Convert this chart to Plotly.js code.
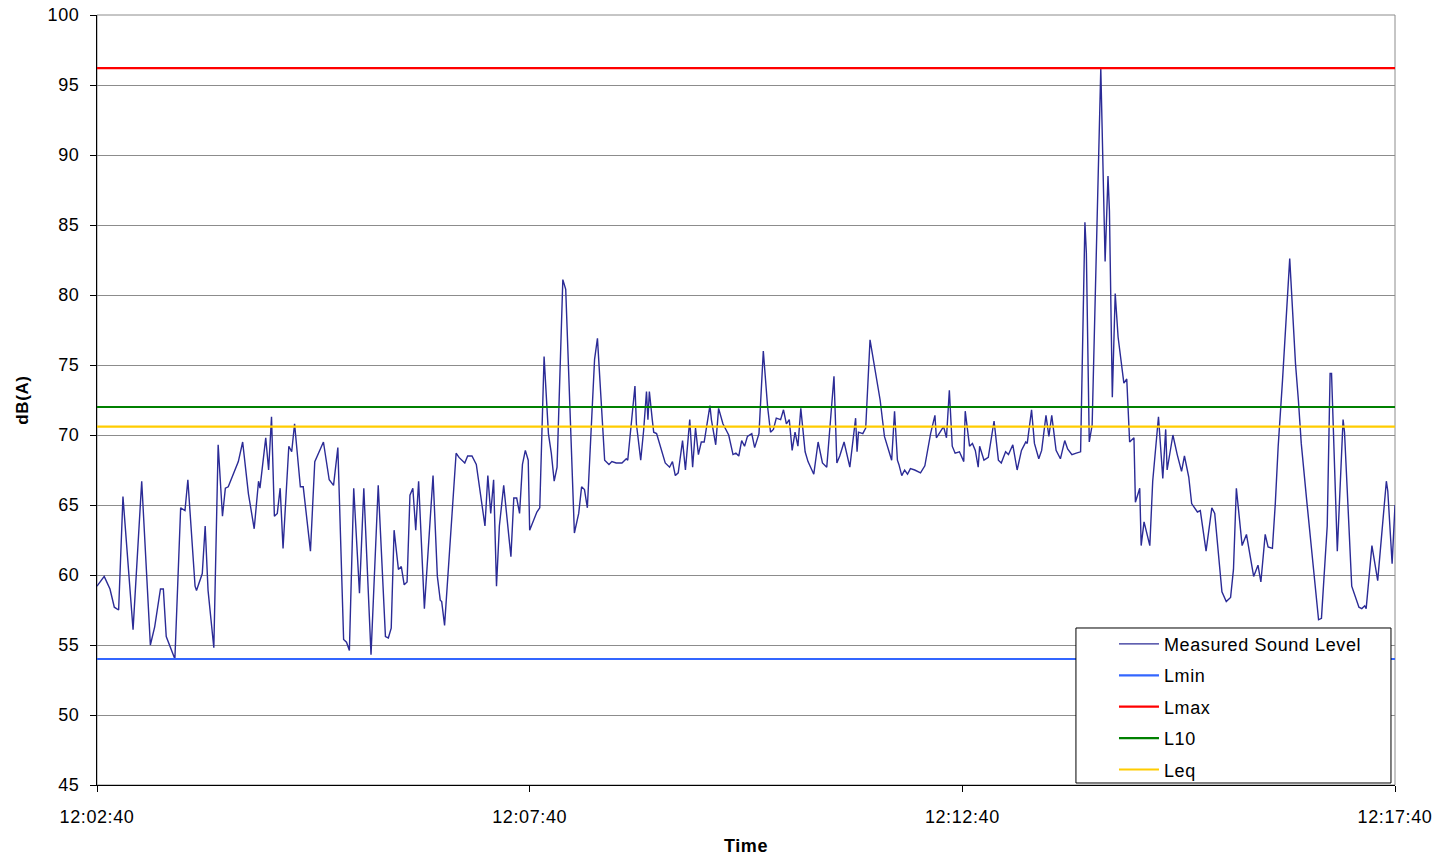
<!DOCTYPE html>
<html>
<head>
<meta charset="utf-8">
<script src="https://cdn.plot.ly/plotly-3.0.1.min.js"></script>
<style>html,body{margin:0;padding:0;background:#fff;}#chart{width:1445px;height:860px;}
svg text{letter-spacing:0.6px;}</style>
</head>
<body>
<div id="chart"></div>
<script>
// Seconds after 12:02:40
const seconds = [0,5,9,12,15,18,25,31,37,40,44,46,48,54,58,61,63,68,69,73,75,77,81,84,87,89,91,95,98,101,105,109,112,113,117,119,121,123,125,127,129,133,135,137,141,143,148,151,157,161,164,167,171,173,175,178,182,185,190,195,200,202,204,206,209,211,213,215,217,219,221,223,227,233,236,238,239,241,245,249,251,255,257,260,263,269,271,273,275,277,279,282,287,289,291,293,295,297,299,300,305,307,310,313,315,317,319,323,325,331,334,336,338,340,345,347,352,355,357,360,364,367,368,373,374,377,379,381,382,383,385,386,388,392,394,397,399,401,403,406,408,411,413,415,417,419,421,425,426,429,431,434,436,438,441,443,445,447,449,451,454,456,459,462,465,467,469,471,474,476,478,480,482,484,486,488,491,493,497,500,503,506,511,513,515,518,522,526,527,528,531,533,536,538,543,546,551,553,555,556,558,560,562,564,567,571,574,578,581,582,585,587,589,591,593,595,598,601,602,605,607,609,611,612,615,618,622,625,627,630,632,635,638,641,644,645,648,650,653,655,658,660,662,665,668,671,673,676,679,682,685,686,688,690,696,699,701,702,704,706,708,712,714,716,719,720,723,724,726,730,732,736,739,741,742,746,749,752,754,757,759,763,765,769,773,775,780,783,786,788,790,794,797,802,805,807,810,812,815,817,819,822,827,831,833,835,839,843,847,849,853,855,856,860,864,865,870,875,877,879,880,884,888,894,895,898,900];
const measured = [59.2,59.9,59.0,57.7,57.5,65.6,56.1,66.7,55.0,56.3,59.0,59.0,55.6,54.0,64.8,64.6,66.8,59.2,58.9,60.1,63.5,58.9,54.8,69.3,64.2,66.2,66.3,67.3,68.1,69.5,65.8,63.3,66.7,66.2,69.8,67.5,71.3,64.2,64.4,66.2,61.9,69.2,68.8,70.8,66.3,66.3,61.7,68.1,69.5,66.8,66.4,69.1,55.4,55.2,54.6,66.2,58.7,66.2,54.3,66.4,55.6,55.5,56.2,63.2,60.4,60.6,59.3,59.5,65.7,66.2,63.2,66.7,57.6,67.1,59.9,58.2,58.1,56.4,62.9,68.7,68.4,68.0,68.5,68.5,67.9,63.5,67.1,64.4,66.8,59.2,63.5,66.4,61.3,65.5,65.5,64.4,67.9,68.9,68.2,63.2,64.5,64.8,75.6,70.1,68.7,66.7,67.7,81.1,80.4,63.0,64.4,66.3,66.1,64.8,75.4,76.9,68.2,67.9,68.1,68.0,68.0,68.3,68.2,73.5,70.8,68.2,70.3,73.1,71.1,73.1,71.1,70.2,70.1,68.8,68.0,67.7,68.1,67.1,67.3,69.6,67.5,71.1,67.7,70.5,68.6,69.5,69.5,72.1,71.1,69.3,71.9,70.8,70.4,70.0,68.6,68.7,68.5,69.6,69.2,69.9,70.1,69.1,70.1,76.0,72.0,70.2,70.4,71.2,71.1,71.8,70.8,71.1,68.9,70.2,69.2,71.9,68.8,68.1,67.2,69.5,68.0,67.7,74.2,68.0,68.5,69.5,67.7,71.2,68.8,70.2,70.1,70.5,76.8,75.5,72.5,69.9,68.2,71.7,68.2,67.9,67.1,67.5,67.2,67.6,67.5,67.3,67.8,70.1,71.4,69.8,70.3,70.6,69.8,73.2,69.2,68.7,68.8,68.1,71.7,69.2,69.4,68.9,67.7,69.2,68.2,68.4,71.0,68.2,68.0,68.8,68.6,69.3,67.5,68.9,69.5,69.4,71.8,69.4,68.3,68.9,71.4,69.9,71.4,68.9,68.3,69.6,69.0,68.6,68.7,68.8,85.2,83.0,69.5,70.7,96.2,82.4,88.5,86.0,72.7,80.1,77.0,73.7,74.0,69.5,69.8,65.2,66.2,62.1,63.8,62.1,66.7,71.3,66.9,70.4,67.5,70.0,68.6,67.4,68.5,67.0,65.1,64.5,64.6,61.7,64.8,64.4,58.8,58.1,58.4,60.4,66.2,62.1,62.9,59.9,60.7,59.5,62.9,62.0,61.9,65.1,69.2,73.9,82.6,75.1,72.5,69.4,65.1,61.1,56.8,56.9,63.5,74.4,74.4,61.7,71.1,70.2,59.2,57.7,57.6,57.8,57.6,62.1,59.6,66.7,66.0,60.8,65.0];
const seriesNames = ["Measured Sound Level","Lmin","Lmax","L10","Leq"];
const levelValues = {Lmin: 54.0, Lmax: 96.2, L10: 72.0, Leq: 70.6};
const levelColors = {Lmin: "#3366ff", Lmax: "#ff0000", L10: "#008000", Leq: "#ffcc00"};
const yTicks = [45,50,55,60,65,70,75,80,85,90,95,100];
const xTickSeconds = [0,300,600,900];

const startOfDay = 12*3600 + 2*60 + 40;
function toDate(s){
  const t = startOfDay + s;
  const h = Math.floor(t/3600), m = Math.floor((t%3600)/60), sec = t%60;
  const p = n => String(n).padStart(2,'0');
  return '2000-01-01 ' + p(h)+':'+p(m)+':'+p(sec);
}
const xs = seconds.map(toDate);
const xEnds = [xs[0], xs[xs.length-1]];

const font = "Liberation Sans, Arial, sans-serif";
const traces = [{
  x: xs, y: measured, type: 'scatter', mode: 'lines', name: seriesNames[0],
  line: {color: '#2b2b96', width: 1.4}, legendgroup: 'g0'
}];
seriesNames.slice(1).forEach((n,i) => {
  traces.push({x: xEnds, y: [levelValues[n], levelValues[n]], type: 'scatter', mode: 'lines',
    name: n, line: {color: levelColors[n], width: 2.2}, legendgroup: 'g'+(i+1)});
});

const layout = {
  width: 1445, height: 860,
  margin: {l: 97, r: 50, t: 15, b: 75},
  paper_bgcolor: '#fff', plot_bgcolor: '#fff',
  font: {family: font, size: 18, color: '#000'},
  showlegend: true,
  legend: {x: 0.7835, y: 0.2069, xanchor: 'left', yanchor: 'top', bgcolor: 'rgba(0,0,0,0)',
    borderwidth: 0, font: {family: font, size: 18, color: '#000'},
    tracegroupgap: 5, itemwidth: 40},
  xaxis: {type: 'date', range: xEnds, tickvals: xTickSeconds.map(toDate), tickformat: '%H:%M:%S',
    showgrid: false, zeroline: false, showline: true, linecolor: '#000', linewidth: 1,
    ticks: 'outside', ticklen: 6, tickcolor: '#000', tickfont: {family: font, size: 18},
    ticklabelstandoff: 9,
    title: {text: '<b>Time</b>', font: {family: font, size: 18}, standoff: 13}, automargin: false},
  yaxis: {range: [45, 100], tickvals: yTicks, showgrid: true, gridcolor: '#8c8c8c', gridwidth: 1,
    zeroline: false, showline: true, linecolor: '#000', linewidth: 1,
    ticks: 'outside', ticklen: 6, tickcolor: '#000', tickfont: {family: font, size: 18},
    ticklabelstandoff: 7,
    title: {text: '<b>dB(A)</b>', font: {family: font, size: 17}, standoff: 14}, automargin: false},
  shapes: [
    {type: 'rect', xref: 'paper', yref: 'paper', x0: 0, x1: 1, y0: 0, y1: 1,
      line: {color: '#8c8c8c', width: 1}, layer: 'below'},
    {type: 'rect', xref: 'paper', yref: 'paper', x0: 0.7542, x1: 0.9969, y0: 0.0026, y1: 0.2039,
      fillcolor: '#fff', line: {color: '#000', width: 1}, layer: 'above'}
  ]
};
Plotly.newPlot('chart', traces, layout, {displayModeBar: false, staticPlot: true});
</script>
</body>
</html>
